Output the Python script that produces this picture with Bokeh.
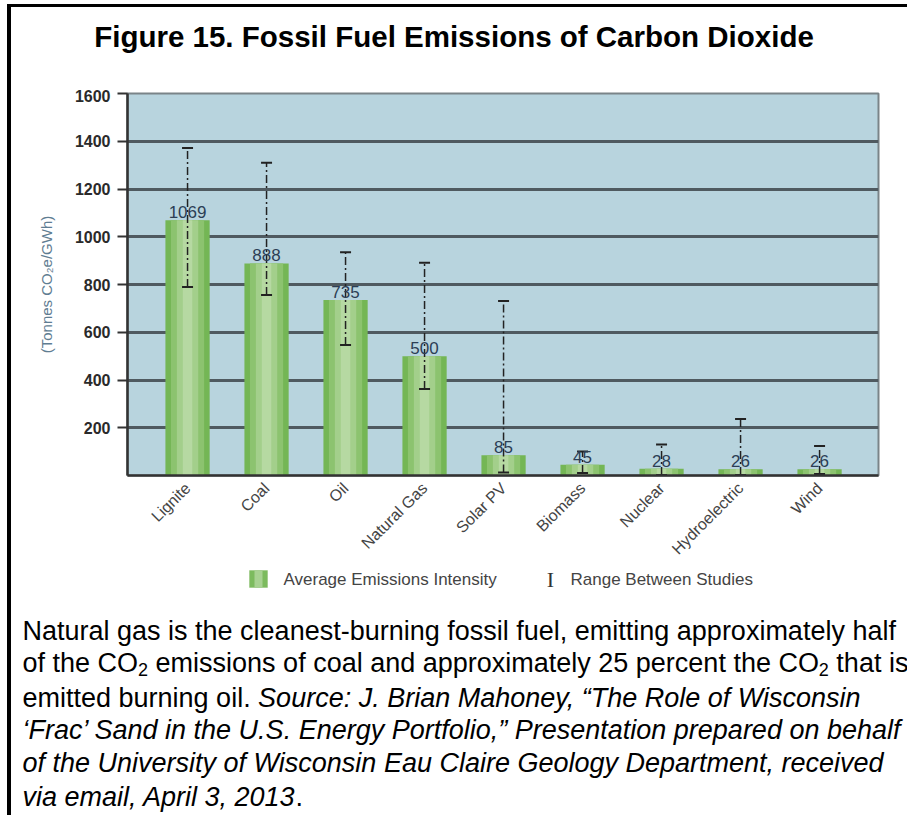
import math
from bokeh.plotting import figure
from bokeh.layouts import column
from bokeh.models import (ColumnDataSource, Label, Range1d, FixedTicker, BoxAnnotation)
from bokeh.core.properties import value
from bokeh.embed import file_html
from bokeh.resources import INLINE

# ---- data ----
categories = ["Lignite", "Coal", "Oil", "Natural Gas", "Solar PV", "Biomass",
              "Nuclear", "Hydroelectric", "Wind"]
average = [1069, 888, 735, 500, 85, 45, 28, 26, 26]
range_low = [790, 756, 547, 362, 13, 10, 2, 2, 6]
range_high = [1372, 1310, 935, 891, 731, 101, 130, 237, 124]
y_ticks = [200, 400, 600, 800, 1000, 1200, 1400, 1600]

title_text = "Figure 15. Fossil Fuel Emissions of Carbon Dioxide"
legend_bar_text = "Average Emissions Intensity"
legend_range_text = "Range Between Studies"
caption_lines = [
    [("Natural gas is the cleanest-burning fossil fuel, emitting approximately half", "normal")],
    [("of the CO", "normal"), ("2", "sub"),
     (" emissions of coal and approximately 25 percent the CO", "normal"), ("2", "sub"),
     (" that is", "normal")],
    [("emitted burning oil. ", "normal"), ("Source: J. Brian Mahoney, \u201cThe Role of Wisconsin", "italic")],
    [("\u2018Frac\u2019 Sand in the U.S. Energy Portfolio,\u201d Presentation prepared on behalf", "italic")],
    [("of the University of Wisconsin Eau Claire Geology Department, received", "italic")],
    [("via email, April 3, 2013", "italic"), (".", "normal")],
]

# Arial / Liberation Sans advance widths (per 1000 em) for positioning mixed-style runs
AW = dict(zip("abcdefghijklmnopqrstuvwxyz",
              [556, 556, 500, 556, 556, 278, 556, 556, 222, 222, 500, 222, 833, 556, 556,
               556, 556, 333, 500, 278, 556, 500, 722, 500, 500, 500]))
AW.update(zip("ABCDEFGHIJKLMNOPQRSTUVWXYZ",
              [667, 667, 722, 722, 667, 611, 778, 722, 278, 500, 667, 556, 833, 722, 778,
               667, 778, 722, 667, 611, 722, 667, 944, 667, 667, 611]))
AW.update({c: 556 for c in "0123456789"})
AW.update({' ': 278, ',': 278, '.': 278, '-': 333, ':': 278})


def text_w(s, size):
    return sum(AW.get(c, 556) for c in s) * size / 1000.0


FONT = "Liberation Sans"
W = 896
TOP_H = 82
MAIN_H = 478
BOT_H = 248
FL, FR = 116, 867          # frame left/right (px)
F_TOP, F_BOT = 4, 386      # frame top/bottom inside main figure (px)
X0, X1 = -0.76, 8.746


def pixel_figure(h):
    f = figure(width=W, height=h, output_backend="svg", toolbar_location=None,
               x_range=Range1d(0, W), y_range=Range1d(h, 0),
               x_axis_type=None, y_axis_type=None, min_border=0, frame_align=False)
    f.outline_line_color = None
    f.background_fill_color = "white"
    f.border_fill_color = "white"
    f.xgrid.visible = False
    f.ygrid.visible = False
    return f


# ---- title strip ----
top = pixel_figure(TOP_H)
top.add_layout(Label(x=442.5, y=29, text=title_text, text_font=FONT,
                     text_font_size="29.5px", text_font_style="bold", text_color="#000000",
                     text_align="center", text_baseline="middle"))

# ---- main chart ----
p = figure(width=W, height=MAIN_H, output_backend="svg", toolbar_location=None,
           x_range=Range1d(X0, X1), y_range=Range1d(0, 1600), frame_align=False,
           min_border_left=FL, min_border_right=W - FR,
           min_border_top=F_TOP, min_border_bottom=MAIN_H - F_BOT)
p.background_fill_color = "#b8d4de"
p.border_fill_color = "white"
p.outline_line_color = "#7a8488"
p.outline_line_width = 2

xs = list(range(len(categories)))
src = ColumnDataSource(dict(x=xs, avg=average, low=range_low, high=range_high,
                            lab=[str(v) for v in average]))

BAR_COLORS = ["#74b655", "#8cc36f", "#a3cf8b", "#b6d9a2"]
BAR_WIDTHS = [0.56, 0.42, 0.27, 0.12]
for col, wd in zip(BAR_COLORS, BAR_WIDTHS):
    p.vbar(x="x", top="avg", width=wd, source=src, fill_color=col, line_color=None)

# range between studies
p.segment(x0="x", y0="low", x1="x", y1="high", source=src, line_color="#222222",
          line_width=1.5, line_dash="8 3 2 3")
p.scatter(x="x", y="low", source=src, marker="dash", size=11, line_color="#222222",
          line_width=2)
p.scatter(x="x", y="high", source=src, marker="dash", size=11, line_color="#222222",
          line_width=2)

# value labels
p.text(x="x", y="avg", text="lab", source=src, y_offset=-2, text_align="center",
       text_baseline="bottom", text_font_size="17px", text_color="#2c3e55",
       text_font=value(FONT))

# axes
p.yaxis.ticker = FixedTicker(ticks=y_ticks)
p.ygrid.ticker = FixedTicker(ticks=y_ticks)
p.ygrid.grid_line_color = "#4f5a60"
p.ygrid.grid_line_width = 3
p.xgrid.grid_line_color = None
p.yaxis.axis_line_color = "#333333"
p.yaxis.axis_line_width = 2.5
p.yaxis.major_tick_out = 10
p.yaxis.major_tick_in = 0
p.yaxis.major_tick_line_width = 2
p.yaxis.major_tick_line_color = "#333333"
p.yaxis.minor_tick_line_color = None
p.yaxis.major_label_standoff = 7
p.yaxis.major_label_text_font = FONT
p.yaxis.major_label_text_font_size = "16px"
p.yaxis.major_label_text_font_style = "bold"
p.yaxis.major_label_text_color = "#2a2a2a"
p.yaxis.axis_label = "(Tonnes CO\u2082e/GWh)"
p.yaxis.axis_label_text_font = FONT
p.yaxis.axis_label_text_font_size = "15px"
p.yaxis.axis_label_text_font_style = "normal"
p.yaxis.axis_label_text_color = "#5f7d92"
p.yaxis.axis_label_standoff = 17

p.xaxis.ticker = FixedTicker(ticks=xs)
p.xaxis.major_label_overrides = {i: c for i, c in enumerate(categories)}
p.xaxis.major_label_orientation = math.pi / 4
p.xaxis.major_label_text_font = FONT
p.xaxis.major_label_text_font_size = "16px"
p.xaxis.major_label_text_color = "#444444"
p.xaxis.major_label_standoff = 10
p.xaxis.major_tick_in = 0
p.xaxis.major_tick_out = 0
p.xaxis.major_tick_line_color = None
p.xaxis.minor_tick_line_color = None
p.xaxis.axis_line_color = "#333333"
p.xaxis.axis_line_width = 2.5

# ---- legend + caption strip ----
bot = pixel_figure(BOT_H)
bot.add_layout(BoxAnnotation(left=238, right=256, top=3, bottom=20, fill_color="#7cbb5e",
                             fill_alpha=1, line_color="#6fb050", line_width=1))
bot.add_layout(BoxAnnotation(left=243, right=251, top=3.5, bottom=19.5, fill_color="#a8d292",
                             fill_alpha=1, line_color=None))
bot.add_layout(Label(x=272, y=11.5, text=legend_bar_text, text_font=FONT,
                     text_font_size="17px", text_color="#444444", text_align="left",
                     text_baseline="middle"))
bot.add_layout(Label(x=539, y=11.5, text="I", text_font="Liberation Serif",
                     text_font_size="22px", text_color="#333333", text_align="center",
                     text_baseline="middle"))
bot.add_layout(Label(x=559, y=11.5, text=legend_range_text, text_font=FONT,
                     text_font_size="17px", text_color="#444444", text_align="left",
                     text_baseline="middle"))

CAP_SIZE = 27
SUB_SIZE = 18
cap_y = [63, 95, 130, 162, 195, 229]
for line, cy in zip(caption_lines, cap_y):
    cx = 11
    for txt, style in line:
        size = SUB_SIZE if style == "sub" else CAP_SIZE
        lead = len(txt) - len(txt.lstrip(" "))
        shown = txt.lstrip(" ")
        sx = cx + text_w(txt[:lead], size)
        bot.add_layout(Label(x=sx, y=cy + (7 if style == "sub" else 0), text=shown,
                             text_font=FONT, text_font_size=f"{size}px",
                             text_font_style="italic" if style == "italic" else "normal",
                             text_color="#000000", text_align="left",
                             text_baseline="middle"))
        cx += text_w(txt, size)

layout = column(top, p, bot, spacing=0)
layout.styles = {"margin-left": "7px", "margin-top": "4px",
                 "border-left": "4px solid #000", "border-top": "3px solid #000"}

open("out.html", "w").write(file_html(layout, INLINE))
